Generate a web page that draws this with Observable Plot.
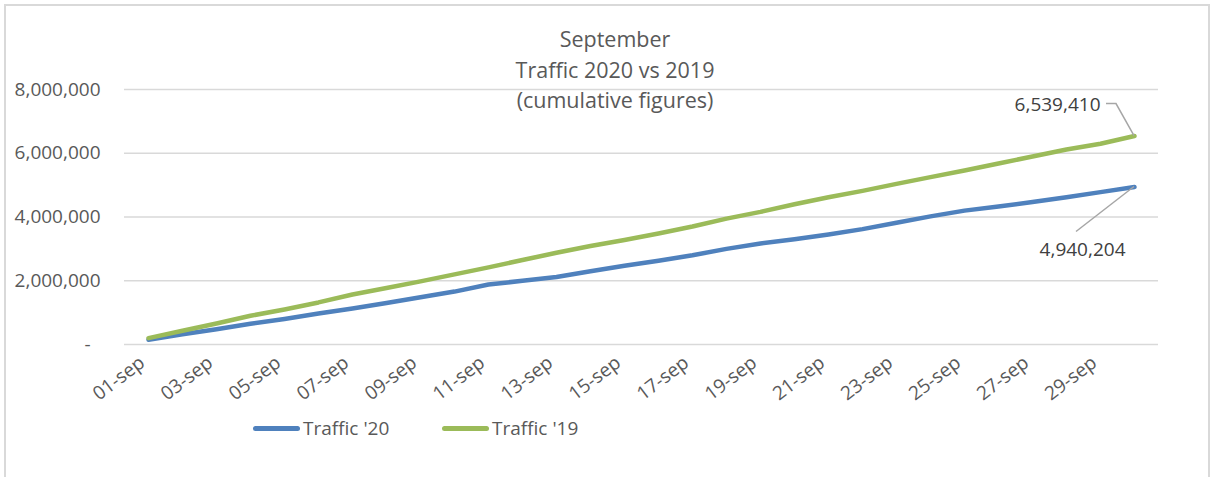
<!DOCTYPE html>
<html>
<head>
<meta charset="utf-8">
<script src="https://cdn.jsdelivr.net/npm/d3@7"></script>
<script src="https://cdn.jsdelivr.net/npm/@observablehq/plot@0.6"></script>
<style>
  html, body { margin: 0; padding: 0; background: #fff; }
  #wrap { position: relative; width: 1225px; height: 477px; overflow: hidden; font-family: "Open Sans", sans-serif; }
  #frame { position: absolute; left: 4px; top: 4px; width: 1206px; height: 500px; border: 2px solid #d9d9d9; box-sizing: border-box; }
  #title { position: absolute; left: 415px; width: 400px; top: 24px; text-align: center; font-size: 21.5px; line-height: 30.5px; color: #595959; }
  #legend { position: absolute; top: 415px; left: 0; width: 1225px; height: 26px; font-size: 19px; color: #595959; }
  .key { position: absolute; top: 0; display: flex; align-items: center; height: 26px; white-space: nowrap; }
  .sw { display: inline-block; width: 47px; height: 5px; border-radius: 3px; margin-right: 3px; }
  #chart { position: absolute; left: 0; top: 0; }
</style>
</head>
<body>
<div id="wrap">
  <div id="frame"></div>
  <div id="chart"></div>
  <div id="title">September<br>Traffic 2020 vs 2019<br>(cumulative figures)</div>
  <div id="legend"></div>
</div>
<script>
// ---- data ----
const days = ["01-sep","02-sep","03-sep","04-sep","05-sep","06-sep","07-sep","08-sep","09-sep","10-sep",
              "11-sep","12-sep","13-sep","14-sep","15-sep","16-sep","17-sep","18-sep","19-sep","20-sep",
              "21-sep","22-sep","23-sep","24-sep","25-sep","26-sep","27-sep","28-sep","29-sep","30-sep"];
const traffic20 = [150000, 320000, 480000, 650000, 800000, 970000, 1130000, 1300000, 1480000, 1660000,
                   1880000, 2000000, 2120000, 2300000, 2470000, 2630000, 2800000, 3000000, 3170000, 3300000,
                   3450000, 3620000, 3820000, 4020000, 4200000, 4330000, 4470000, 4620000, 4780000, 4940204];
const traffic19 = [200000, 430000, 660000, 900000, 1100000, 1320000, 1570000, 1770000, 1980000, 2200000,
                   2420000, 2650000, 2880000, 3090000, 3280000, 3480000, 3700000, 3950000, 4160000, 4400000,
                   4620000, 4820000, 5040000, 5250000, 5460000, 5680000, 5900000, 6120000, 6300000, 6539410];
const seriesNames = ["Traffic '20", "Traffic '19"];
const seriesColors = ["#4f81bd", "#9bbb59"];
const yTicks = [0, 2000000, 4000000, 6000000, 8000000];
const xTicks = ["01-sep","03-sep","05-sep","07-sep","09-sep","11-sep","13-sep","15-sep","17-sep","19-sep",
                "21-sep","23-sep","25-sep","27-sep","29-sep"];

// ---- build rows ----
const rows = [];
days.forEach((d, i) => {
  rows.push({day: d, value: traffic20[i], series: seriesNames[0]});
  rows.push({day: d, value: traffic19[i], series: seriesNames[1]});
});
const last = days.length - 1;
const endLabels = [
  {day: days[last], value: traffic19[last], series: seriesNames[1]},
  {day: days[last], value: traffic20[last], series: seriesNames[0]}
];
const fmt = d3.format(",");

const chart = Plot.plot({
  width: 1225,
  height: 477,
  marginLeft: 124,
  marginRight: 67,
  marginTop: 89,
  marginBottom: 133,
  style: {fontFamily: "Open Sans, sans-serif", fontSize: "19px", color: "#595959", background: "transparent"},
  x: {type: "point", domain: days, padding: 0.5, label: null},
  y: {domain: [0, 8000000], label: null},
  color: {domain: seriesNames, range: seriesColors},
  marks: [
    Plot.ruleY(yTicks, {stroke: "#d9d9d9", strokeWidth: 1.5}),
    Plot.axisY(yTicks, {tickSize: 0, tickPadding: 24, label: null,
      tickFormat: v => v === 0 ? "-\u00a0\u00a0" : fmt(v)}),
    Plot.axisX(xTicks, {tickSize: 0, tickRotate: -37, tickPadding: 16, dx: -6, label: null}),
    Plot.line(rows, {x: "day", y: "value", z: "series", stroke: "series", strokeWidth: 4.5,
      strokeLinecap: "round", strokeLinejoin: "round"}),
    Plot.text([endLabels[0]], {x: "day", y: "value", text: d => fmt(d.value), textAnchor: "end",
      dx: -34, dy: -31, fill: "#404040", fontSize: 19}),
    Plot.text([endLabels[1]], {x: "day", y: "value", text: d => fmt(d.value), textAnchor: "end",
      dx: -9, dy: 63, fill: "#404040", fontSize: 19})
  ]
});
document.getElementById("chart").appendChild(chart);

// leader lines positioned through the chart's own scales
const sx = chart.scale("x"), sy = chart.scale("y");
const svg = d3.select(chart);
const px = sx.apply(days[last]);
const py19 = sy.apply(traffic19[last]);
const py20 = sy.apply(traffic20[last]);
svg.append("path")
  .attr("d", `M${px - 28},${py19 - 32}H${px - 18}L${px},${py19}`)
  .attr("fill", "none").attr("stroke", "#a6a6a6").attr("stroke-width", 1.5);
svg.append("path")
  .attr("d", `M${px - 58},${py20 + 45}L${px},${py20}`)
  .attr("fill", "none").attr("stroke", "#a6a6a6").attr("stroke-width", 1.5);

// legend
const legend = document.getElementById("legend");
const legendX = [253, 442];
seriesNames.forEach((name, i) => {
  const k = document.createElement("div");
  k.className = "key";
  k.style.left = legendX[i] + "px";
  k.innerHTML = `<span class="sw" style="background:${seriesColors[i]}"></span><span>${name}</span>`;
  legend.appendChild(k);
});
</script>
</body>
</html>
